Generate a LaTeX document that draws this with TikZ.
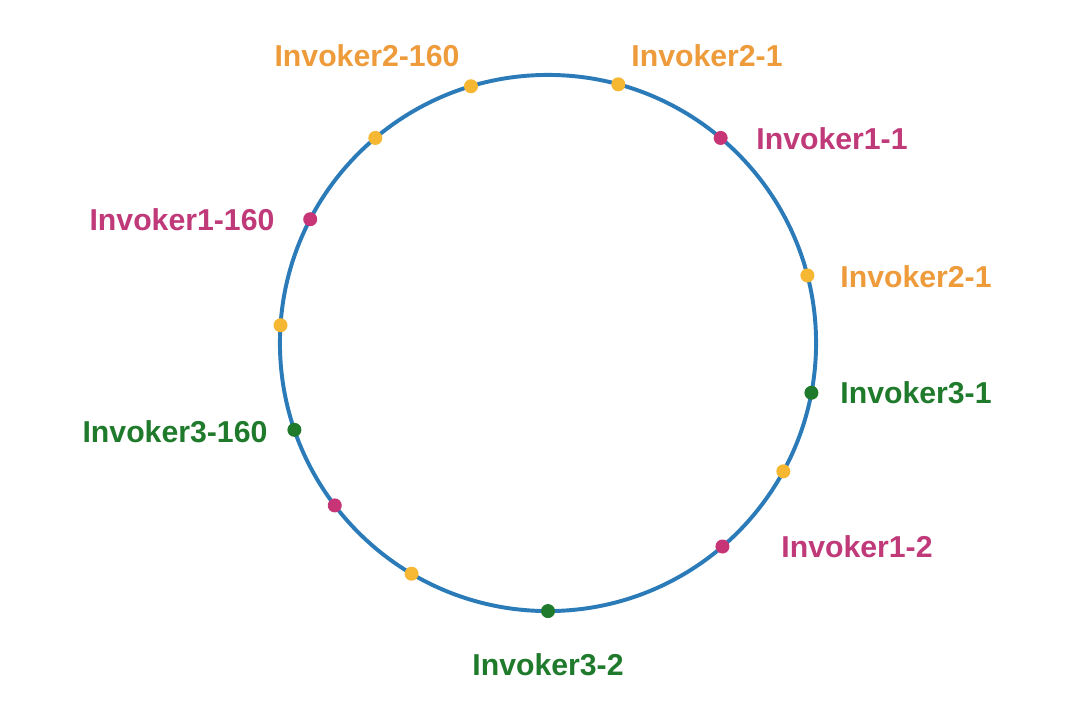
\documentclass[tikz,border=0pt]{standalone}
\usepackage{fontspec}
\setmainfont{Liberation Sans}
\definecolor{ringblue}{HTML}{2B7BB9}
\definecolor{dotyellow}{HTML}{F6B732}
\definecolor{txtorange}{HTML}{EE9B3C}
\definecolor{dotmagenta}{HTML}{C83577}
\definecolor{txtmagenta}{HTML}{C03A7A}
\definecolor{invgreen}{HTML}{1F7A2C}
\begin{document}
\begin{tikzpicture}[x=0.025cm, y=-0.025cm, font=\fontsize{21.5}{26}\selectfont\bfseries, line join=round, line cap=round,
	dot/.style={circle, inner sep=0pt, minimum size=0.35cm, fill=#1},
	lbl/.style={inner sep=0pt, text=#1}]
	\def\R{6.7cm}
	\useasboundingbox (0,0) rectangle (1080,716);
	\coordinate (O) at (548,343);
	\draw[ringblue, line width=2.8pt] (O) circle (\R);
	% points on the ring
	\foreach \a/\c/\n in {106.7/dotyellow/y1, 74.8/dotyellow/y2, 49.9/dotmagenta/m1, 130.1/dotyellow/y3,
		152.5/dotmagenta/m2, 14.6/dotyellow/y4, 176.2/dotyellow/y5, -10.7/invgreen/g1,
		198.9/invgreen/g2, -28.6/dotyellow/y6, 217.3/dotmagenta/m3, -49.4/dotmagenta/m4,
		239.4/dotyellow/y7, -90/invgreen/g3}
	\path (O) ++(\a:\R) node[dot=\c] (\n) {};
	% labels
	\node[lbl=txtorange] (l2a) at (367,56) {Invoker2-160};
	\node[lbl=txtorange] (l2b) at (707,56) {Invoker2-1};
	\node[lbl=txtmagenta] (l1a) at (832,139) {Invoker1-1};
	\node[lbl=txtmagenta] (l1b) at (182,220) {Invoker1-160};
	\node[lbl=txtorange] (l2c) at (916,277) {Invoker2-1};
	\node[lbl=invgreen] (l3a) at (916,393) {Invoker3-1};
	\node[lbl=invgreen] (l3b) at (175,432) {Invoker3-160};
	\node[lbl=txtmagenta] (l1c) at (857,547) {Invoker1-2};
	\node[lbl=invgreen] (l3c) at (548,665) {Invoker3-2};
\end{tikzpicture}
\end{document}
